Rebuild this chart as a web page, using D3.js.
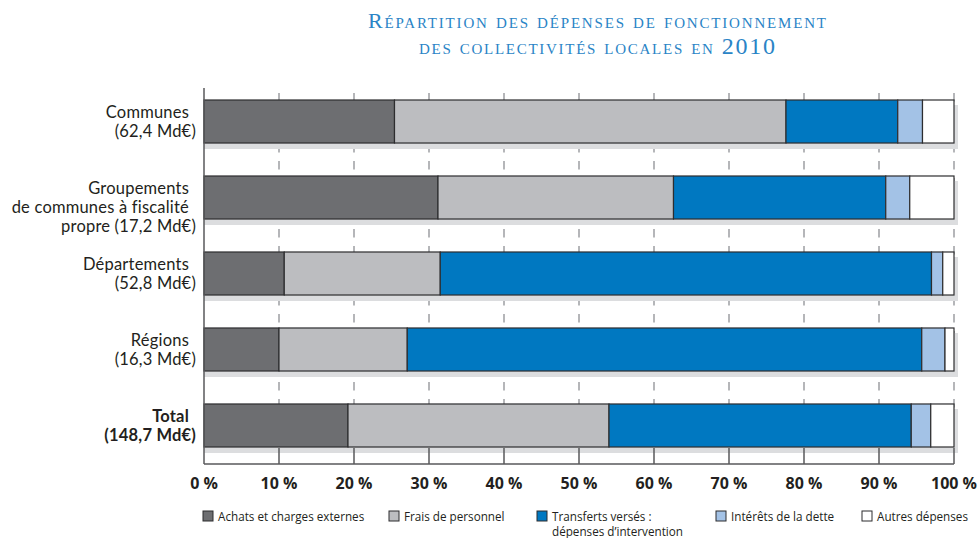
<!DOCTYPE html>
<html>
<head>
<meta charset="utf-8">
<script src="https://cdn.jsdelivr.net/npm/d3@7"></script>
<style>
  body { margin: 0; background: #fff; }
  svg { display: block; }
</style>
</head>
<body>
<svg width="979" height="538"></svg>
<script>
// data (percent of each total)
const categories = ["Communes", "Groupements", "Départements", "Régions", "Total"];
const labelLines = [
  ["Communes", "(62,4 Md€)"],
  ["Groupements", "de communes à fiscalité", "propre (17,2 Md€)"],
  ["Départements", "(52,8 Md€)"],
  ["Régions", "(16,3 Md€)"],
  ["Total", "(148,7 Md€)"]
];
const achats     = [25.4, 31.2, 10.7, 10.0, 19.2];
const frais      = [52.2, 31.4, 20.8, 17.1, 34.8];
const transferts = [14.9, 28.3, 65.5, 68.6, 40.3];
const interets   = [3.3, 3.2, 1.5, 3.1, 2.6];
const autres     = [4.2, 5.9, 1.5, 1.2, 3.1];

const seriesKeys = ["achats", "frais", "transferts", "interets", "autres"];
const seriesNames = ["Achats et charges externes", "Frais de personnel",
                     "Transferts versés :|dépenses d’intervention",
                     "Intérêts de la dette", "Autres dépenses"];
const colors = ["#6d6e71", "#bcbdc0", "#0078c1", "#a3c2e6", "#ffffff"];
const tickValues = [0, 10, 20, 30, 40, 50, 60, 70, 80, 90, 100];

const rows = categories.map(function(c, i) {
  return { cat: c, achats: achats[i], frais: frais[i], transferts: transferts[i],
           interets: interets[i], autres: autres[i] };
});

const svg = d3.select("svg");
const font = "'Open Sans', sans-serif";

var x = d3.scaleLinear().domain([0, 100]).range([204, 954]);
var y = d3.scaleBand().domain(categories).range([100, 447])
          .paddingInner(0.434).paddingOuter(0);

// title
var title = svg.append("g")
   .attr("fill", "#2a84c6")
   .attr("font-family", "'Liberation Serif', serif")
   .attr("text-anchor", "middle");
title.append("text")
   .attr("x", 597).attr("y", 28)
   .attr("font-size", 22)
   .style("font-variant", "small-caps")
   .attr("textLength", 458).attr("lengthAdjust", "spacing")
   .text("Répartition des dépenses de fonctionnement");
var t2 = title.append("text")
   .attr("x", 597).attr("y", 54)
   .attr("font-size", 22)
   .style("font-variant", "small-caps")
   .attr("textLength", 356).attr("lengthAdjust", "spacing");
t2.append("tspan").text("des collectivités locales en ");
t2.append("tspan").attr("font-size", 24).text("2010");

// dashed grid
svg.append("g").selectAll("line")
   .data(tickValues.slice(1))
   .enter().append("line")
   .attr("x1", function(d) { return x(d); })
   .attr("x2", function(d) { return x(d); })
   .attr("y1", 93).attr("y2", 447)
   .attr("stroke", "#9d9fa2")
   .attr("stroke-width", 1.5)
   .attr("stroke-dasharray", "8.5,8.5");

// shadows
svg.append("g").selectAll("rect")
   .data(categories)
   .enter().append("rect")
   .attr("x", x(0))
   .attr("y", function(d) { return y(d) + 5; })
   .attr("width", x(100) - x(0) + 4)
   .attr("height", y.bandwidth() + 1)
   .attr("fill", "#dcdddf");

// stacked bars
var stacked = d3.stack().keys(seriesKeys)(rows);
svg.append("g").selectAll("g")
   .data(stacked)
   .enter().append("g")
   .attr("fill", function(d, i) { return colors[i]; })
   .selectAll("rect")
   .data(function(d) { return d; })
   .enter().append("rect")
   .attr("x", function(d) { return x(d[0]); })
   .attr("y", function(d) { return y(d.data.cat); })
   .attr("width", function(d) { return x(d[1]) - x(d[0]); })
   .attr("height", y.bandwidth())
   .attr("stroke", "#2d2d2f")
   .attr("stroke-width", 1.2);

// axes
var axis_g = svg.append("g").attr("stroke", "#58595b").attr("stroke-width", 1.5);
axis_g.append("line")
   .attr("x1", x(0)).attr("x2", x(0)).attr("y1", 88).attr("y2", 464);
axis_g.append("line")
   .attr("x1", x(0)).attr("x2", x(100)).attr("y1", 464).attr("y2", 464);
axis_g.selectAll("line.tick")
   .data(tickValues.slice(1))
   .enter().append("line")
   .attr("class", "tick")
   .attr("x1", function(d) { return x(d); })
   .attr("x2", function(d) { return x(d); })
   .attr("y1", 448).attr("y2", 464);

svg.append("g").selectAll("text")
   .data(tickValues)
   .enter().append("text")
   .attr("x", function(d) { return x(d); })
   .attr("y", 489)
   .attr("text-anchor", "middle")
   .attr("font-family", font)
   .attr("font-size", 16)
   .attr("font-weight", "bold")
   .attr("fill", "#231f20")
   .text(function(d) { return d + "\u00a0%"; });

// category labels, one text per line
var labelFont = "Lato, 'Open Sans', sans-serif";
categories.forEach(function(d, i) {
  var lines = labelLines[i];
  var cy = y(d) + y.bandwidth() / 2 - 9;
  svg.append("g").selectAll("text")
     .data(lines)
     .enter().append("text")
     .attr("text-anchor", "end")
     .attr("font-family", labelFont)
     .attr("font-size", 16.5)
     .attr("letter-spacing", 0.2)
     .attr("fill", "#231f20")
     .attr("font-weight", d === "Total" ? "bold" : "normal")
     .attr("x", function(l, j) { return j === lines.length - 1 ? 196 : 189; })
     .attr("y", function(l, j) { return cy + j * 19; })
     .attr("dy", "0.35em")
     .text(function(l) { return l; });
});

// legend
var legX = [203, 389, 537, 716, 862];
var leg = svg.append("g").attr("font-family", font).attr("font-size", 11.7).attr("fill", "#231f20");
var items = leg.selectAll("g")
   .data(seriesNames)
   .enter().append("g")
   .attr("transform", function(d, i) { return "translate(" + legX[i] + ",511)"; });
items.append("rect")
   .attr("width", 10).attr("height", 10)
   .attr("fill", function(d, i) { return colors[i]; })
   .attr("stroke", "#2d2d2f").attr("stroke-width", 1);
items.append("text")
   .selectAll("tspan")
   .data(function(d) { return d.split("|"); })
   .enter().append("tspan")
   .attr("x", 15)
   .attr("y", function(d, j) { return 10 + j * 15; })
   .text(function(d) { return d; });
</script>
</body>
</html>
